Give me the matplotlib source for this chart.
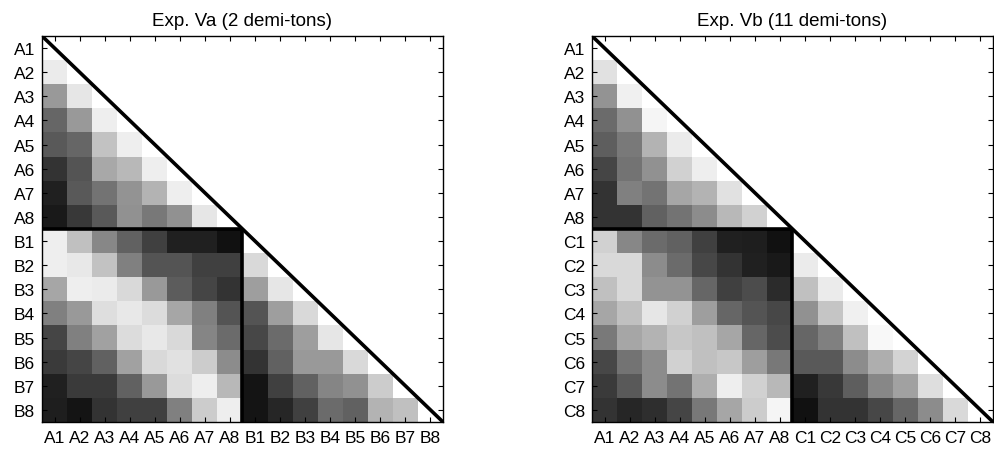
import numpy as np
import matplotlib.pyplot as plt

plt.rcParams['font.family'] = ['Liberation Sans', 'DejaVu Sans']

# similarity values, lower triangle row by row (1 = white, 0 = black)
labels_a = ["A1", "A2", "A3", "A4", "A5", "A6", "A7", "A8",
            "B1", "B2", "B3", "B4", "B5", "B6", "B7", "B8"]
labels_b = ["A1", "A2", "A3", "A4", "A5", "A6", "A7", "A8",
            "C1", "C2", "C3", "C4", "C5", "C6", "C7", "C8"]

tri_va = [
    [1.0],
    [0.92, 1.0],
    [0.60, 0.90, 1.0],
    [0.40, 0.60, 0.93, 1.0],
    [0.35, 0.40, 0.76, 0.93, 1.0],
    [0.20, 0.33, 0.66, 0.72, 0.93, 1.0],
    [0.13, 0.35, 0.45, 0.58, 0.70, 0.93, 1.0],
    [0.10, 0.22, 0.35, 0.57, 0.47, 0.57, 0.90, 1.0],
    [0.93, 0.75, 0.53, 0.38, 0.25, 0.13, 0.13, 0.07, 1.0],
    [0.93, 0.91, 0.76, 0.50, 0.33, 0.33, 0.25, 0.25, 0.85, 1.0],
    [0.65, 0.93, 0.92, 0.85, 0.60, 0.36, 0.27, 0.20, 0.62, 0.90, 1.0],
    [0.50, 0.60, 0.87, 0.91, 0.86, 0.65, 0.50, 0.33, 0.33, 0.62, 0.85, 1.0],
    [0.27, 0.50, 0.63, 0.86, 0.91, 0.85, 0.52, 0.42, 0.28, 0.42, 0.62, 0.90, 1.0],
    [0.23, 0.27, 0.38, 0.63, 0.85, 0.88, 0.80, 0.55, 0.20, 0.38, 0.60, 0.60, 0.85, 1.0],
    [0.13, 0.23, 0.23, 0.38, 0.60, 0.86, 0.93, 0.72, 0.08, 0.25, 0.38, 0.52, 0.57, 0.80, 1.0],
    [0.12, 0.08, 0.20, 0.25, 0.25, 0.50, 0.80, 0.93, 0.08, 0.15, 0.25, 0.42, 0.38, 0.70, 0.75, 1.0],
]

tri_vb = [
    [1.0],
    [0.88, 1.0],
    [0.58, 0.94, 1.0],
    [0.42, 0.57, 0.96, 1.0],
    [0.37, 0.48, 0.70, 0.92, 1.0],
    [0.27, 0.45, 0.57, 0.82, 0.93, 1.0],
    [0.20, 0.50, 0.45, 0.65, 0.70, 0.88, 1.0],
    [0.20, 0.20, 0.38, 0.45, 0.55, 0.72, 0.82, 1.0],
    [0.82, 0.53, 0.42, 0.38, 0.25, 0.13, 0.12, 0.07, 1.0],
    [0.85, 0.85, 0.55, 0.42, 0.28, 0.20, 0.13, 0.10, 0.92, 1.0],
    [0.75, 0.85, 0.58, 0.58, 0.40, 0.25, 0.30, 0.17, 0.75, 0.92, 1.0],
    [0.65, 0.75, 0.90, 0.82, 0.62, 0.40, 0.33, 0.28, 0.57, 0.77, 0.94, 1.0],
    [0.48, 0.65, 0.70, 0.78, 0.75, 0.65, 0.40, 0.30, 0.40, 0.50, 0.75, 0.97, 1.0],
    [0.28, 0.45, 0.55, 0.82, 0.75, 0.78, 0.62, 0.47, 0.35, 0.35, 0.55, 0.68, 0.83, 1.0],
    [0.23, 0.35, 0.55, 0.45, 0.68, 0.93, 0.82, 0.72, 0.13, 0.22, 0.37, 0.53, 0.63, 0.87, 1.0],
    [0.20, 0.15, 0.18, 0.27, 0.47, 0.65, 0.80, 0.96, 0.07, 0.20, 0.20, 0.28, 0.40, 0.55, 0.85, 1.0],
]

titles = ["Exp. Va (2 demi-tons)", "Exp. Vb (11 demi-tons)"]


def to_matrix(tri):
    n = len(tri)
    m = np.ones((n, n))
    for i, row in enumerate(tri):
        m[i, :len(row)] = row
    return m


fig = plt.figure(figsize=(9.95, 4.52), dpi=100)
W, H = 995.0, 452.0
positions = [[42 / W, 1 - 423 / H, 401 / W, 386 / H],
             [592 / W, 1 - 423 / H, 401 / W, 386 / H]]

for pos, tri, labels, title in zip(positions, [tri_va, tri_vb], [labels_a, labels_b], titles):
    ax = fig.add_axes(pos)
    m = to_matrix(tri)
    n = m.shape[0]
    ax.imshow(m, cmap='gray', vmin=0, vmax=1, aspect='auto', interpolation='nearest')
    # block outlines
    ax.plot([-0.5, n - 0.5], [-0.5, n - 0.5], color='black', lw=2.6, solid_capstyle='butt')
    h = n // 2 - 0.5
    ax.plot([-0.5, h], [h, h], color='black', lw=2.6, solid_capstyle='butt')
    ax.plot([h, h], [h, n - 0.5], color='black', lw=2.6, solid_capstyle='butt')
    ax.set_xlim(-0.5, n - 0.5)
    ax.set_ylim(n - 0.5, -0.5)
    ax.set_xticks(range(n))
    ax.set_yticks(range(n))
    ax.set_xticklabels(labels, fontsize=12.5)
    ax.set_yticklabels(labels, fontsize=12.5)
    ax.tick_params(direction='in', top=True, right=True, length=3.5, width=0.8)
    ax.tick_params(axis='x', pad=6)
    ax.tick_params(axis='y', pad=5)
    for s in ax.spines.values():
        s.set_linewidth(1.0)
    ax.set_title(title, fontsize=13.5, pad=8)

fig.savefig("out.png", dpi=100)
